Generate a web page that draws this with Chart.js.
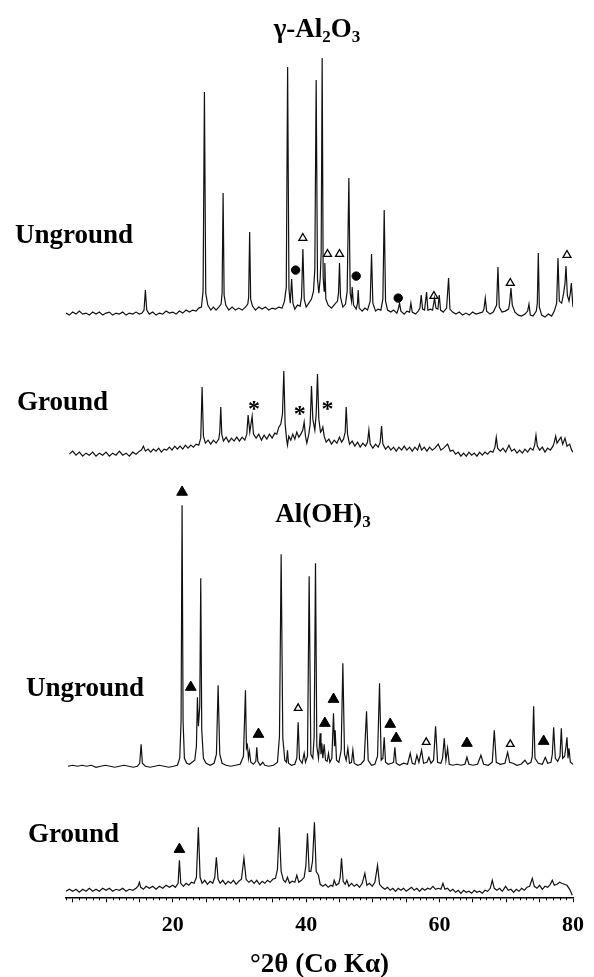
<!DOCTYPE html>
<html>
<head>
<meta charset="utf-8">
<script src="https://cdn.jsdelivr.net/npm/chart.js@4.4.1/dist/chart.umd.min.js"></script>
<style>
  html, body { margin: 0; padding: 0; background: #fff; }
  canvas { display: block; }
</style>
</head>
<body>
<canvas id="xrd" width="594" height="977"></canvas>
<script>
// 2-theta (deg, Co K-alpha) vs. relative intensity (a.u.)
const gammaUnground = [
  [4,0],[4.5,-2],[5,1],[5.5,-1],[6,2],[6.5,-1],[7,0],[7.5,-2],[8,1],[8.5,-1],[9,1],[9.5,-2],[10,0],[10.5,1],
  [11,-2],[11.5,0],[12,-1],[12.5,1],[13,-2],[13.5,0],[14,-1],[14.5,1],[15,-1],[15.4,0],[15.7,3],[15.9,23],
  [16.1,3],[16.5,-1],[17,1],[17.5,-2],[18,0],[18.5,-1],[19,2],[19.5,0],[20,1],[20.5,-1],[21,2],[21.5,0],
  [22,3],[22.5,1],[23,3],[23.5,2],[23.9,5],[24.3,6],[24.55,22],[24.75,221],[24.95,20],[25.25,8],[25.7,3],
  [26.1,6],[26.5,3],[26.9,6],[27.25,9],[27.4,20],[27.55,120],[27.7,18],[27.95,8],[28.4,3],[28.9,6],[29.4,3],
  [29.9,5],[30.4,3],[30.9,6],[31.25,9],[31.38,16],[31.53,81],[31.68,14],[31.95,7],[32.4,3],[32.9,6],[33.4,4],
  [33.9,6],[34.4,3],[34.9,5],[35.4,4],[35.9,6],[36.4,5],[36.75,12],[37.02,26],[37.22,246],[37.42,24],
  [37.62,10],[37.82,34],[38.02,10],[38.3,4],[38.7,8],[39.1,7],[39.31,16],[39.51,64],[39.71,14],[40,6],
  [40.4,10],[40.8,14],[41.1,22],[41.3,44],[41.5,233],[41.7,34],[41.9,20],[42.1,34],[42.25,60],[42.4,255],
  [42.55,36],[42.7,22],[42.8,50],[42.95,14],[43.3,8],[43.8,5],[44.3,9],[44.7,12],[44.85,20],[45,50],
  [45.15,16],[45.5,6],[45.9,9],[46.15,22],[46.4,135],[46.6,20],[46.8,12],[46.9,26],[47.1,8],[47.5,4],
  [47.7,10],[47.8,23],[47.95,5],[48.4,2],[48.8,5],[49.2,3],[49.6,12],[49.8,59],[50,10],[50.4,2],[50.8,4],
  [51.2,3],[51.5,14],[51.7,103],[51.9,12],[52.2,3],[52.7,1],[53.1,3],[53.6,0],[53.8,4],[54,10],[54.2,2],
  [54.7,-1],[55.1,2],[55.5,1],[55.7,10],[55.9,1],[56.4,-1],[56.8,2],[57.05,5],[57.25,18],[57.45,4],
  [57.75,3],[58.05,21],[58.25,3],[58.65,4],[58.95,3],[59.25,15],[59.45,5],[59.75,4],[59.95,18],[60.15,3],
  [60.55,1],[61.05,5],[61.35,35],[61.55,4],[61.95,1],[62.45,-1],[62.95,1],[63.45,-2],[63.95,0],[64.45,-2],
  [64.95,1],[65.45,-1],[65.95,0],[66.45,1],[66.65,4],[66.85,15],[67.05,2],[67.55,-1],[68.05,1],[68.55,8],
  [68.75,46],[68.95,6],[69.35,1],[69.85,2],[70.35,4],[70.5,10],[70.7,25],[70.9,8],[71.3,1],[71.8,-2],
  [72.3,-3],[72.8,-1],[73.2,2],[73.4,9],[73.6,-2],[74,-3],[74.5,2],[74.65,10],[74.8,60],[74.95,6],[75.3,-2],
  [75.8,-4],[76.3,-1],[76.8,-3],[77.2,2],[77.55,10],[77.75,55],[77.95,12],[78.3,10],[78.6,20],[78.8,30],
  [78.95,47],[79.15,18],[79.4,12],[79.6,20],[79.75,30],[79.95,10],[80,6]
];

const gammaGround = [
  [4.5,0],[5,3],[5.5,-1],[6,2],[6.5,-2],[7,1],[7.5,-1],[8,2],[8.5,-2],[9,1],[9.5,-1],[10,2],[10.5,-2],[11,1],
  [11.5,-1],[12,3],[12.5,-1],[13,1],[13.5,-2],[14,2],[14.5,0],[15,3],[15.3,4],[15.6,8],[15.9,3],[16.3,5],
  [16.7,2],[17.1,5],[17.5,3],[17.9,6],[18.3,2],[18.7,5],[19.1,4],[19.5,7],[19.9,4],[20.3,8],[20.7,5],
  [21.1,8],[21.5,5],[21.9,9],[22.3,6],[22.7,9],[23.1,7],[23.5,10],[23.9,9],[24.2,16],[24.4,67],[24.6,18],
  [24.9,11],[25.3,14],[25.7,10],[26.1,14],[26.5,11],[26.9,15],[27.05,22],[27.2,47],[27.35,20],[27.6,13],
  [28,17],[28.4,12],[28.8,16],[29.2,13],[29.6,17],[30,13],[30.4,17],[30.8,14],[31.1,20],[31.3,39],
  [31.55,22],[31.9,38],[32.1,20],[32.5,16],[32.9,20],[33.3,14],[33.7,19],[34.1,15],[34.5,20],[34.9,16],
  [35.3,21],[35.6,20],[35.9,27],[36.2,30],[36.45,40],[36.65,83],[36.85,30],[37.05,16],[37.2,9],[37.4,18],
  [37.7,14],[38,20],[38.3,15],[38.6,22],[38.9,17],[39.2,20],[39.5,24],[39.7,32],[39.9,18],[40.1,11],
  [40.4,20],[40.6,30],[40.8,68],[41,35],[41.3,24],[41.5,40],[41.7,80],[41.9,35],[42.15,22],[42.35,24],
  [42.5,27],[42.7,18],[43,12],[43.4,15],[43.8,10],[44.2,14],[44.6,11],[45,17],[45.3,12],[45.6,15],
  [45.85,22],[46,47],[46.2,20],[46.5,10],[46.9,13],[47.3,8],[47.7,12],[48.1,7],[48.5,11],[48.9,8],
  [49.2,12],[49.4,24],[49.6,10],[50,6],[50.4,10],[50.8,7],[51.1,12],[51.3,28],[51.5,10],[51.9,5],[52.3,8],
  [52.7,4],[53.1,7],[53.5,3],[53.9,7],[54.3,4],[54.7,8],[55.1,4],[55.5,7],[55.9,3],[56.3,7],[56.7,4],
  [57,10],[57.3,4],[57.7,7],[58.1,3],[58.5,7],[58.9,4],[59.3,6],[59.8,10],[60.2,4],[60.6,6],[61.2,10],
  [61.6,3],[62,4],[62.4,0],[62.8,2],[63.2,-2],[63.6,1],[64,-2],[64.4,2],[64.8,-1],[65.2,1],[65.6,-2],
  [66,2],[66.4,-1],[66.8,2],[67.2,0],[67.6,3],[68,2],[68.3,7],[68.5,17],[68.7,6],[69.1,3],[69.5,6],
  [69.9,2],[70.4,9],[70.8,3],[71.2,5],[71.6,1],[72,4],[72.4,1],[72.8,5],[73.2,2],[73.6,6],[74,4],
  [74.25,9],[74.45,19],[74.65,8],[75,4],[75.4,7],[75.8,2],[76.2,6],[76.6,4],[77,8],[77.2,12],[77.4,18],
  [77.6,11],[77.9,14],[78.2,17],[78.45,10],[78.8,16],[79.1,8],[79.5,10],[79.8,4],[80,2]
];

const gibbsiteUnground = [
  [4.3,0],[5,1],[5.7,0],[6.4,1],[7.1,0],[7.8,1],[8.5,-1],[9.2,0],[9.9,1],[10.6,0],[11.3,-1],[12,0],[12.7,1],
  [13.4,0],[14.1,-1],[14.7,0],[15.05,3],[15.26,22],[15.45,3],[15.9,0],[16.6,-1],[17.3,0],[18,1],[18.7,0],
  [19.4,-1],[20.1,0],[20.7,1],[21.05,8],[21.25,45],[21.4,261],[21.55,45],[21.75,8],[22.1,3],[22.5,2],
  [22.9,4],[23.3,6],[23.55,20],[23.7,69],[23.85,40],[24.05,60],[24.2,188],[24.35,36],[24.6,8],[25,3],
  [25.6,1],[26.2,3],[26.55,12],[26.8,81],[27.05,12],[27.4,3],[28,1],[28.7,0],[29.4,1],[30.1,2],[30.6,10],
  [30.9,76],[31.05,18],[31.2,21],[31.35,8],[31.5,15],[31.7,4],[32.1,2],[32.45,5],[32.6,19],[32.75,5],
  [33.1,1],[33.5,4],[33.8,1],[34.4,0],[35.1,1],[35.7,4],[36,30],[36.25,212],[36.5,28],[36.8,6],[37.05,4],
  [37.2,16],[37.35,3],[37.8,1],[38.3,2],[38.6,8],[38.8,44],[39,7],[39.4,3],[39.7,13],[39.9,4],[40.2,10],
  [40.45,190],[40.7,12],[41,8],[41.2,30],[41.4,203],[41.6,20],[41.85,8],[42.1,33],[42.22,12],[42.35,23],
  [42.5,8],[42.7,22],[42.9,6],[43.15,5],[43.35,13],[43.55,4],[43.85,8],[44.1,53],[44.25,20],[44.35,36],
  [44.55,6],[44.9,4],[45.25,16],[45.5,103],[45.75,12],[46,6],[46.25,18],[46.5,3],[46.8,4],[47,16],[47.2,3],
  [47.7,1],[48.2,2],[48.7,6],[49.05,55],[49.3,6],[49.8,1],[50.3,2],[50.7,10],[51,83],[51.25,6],[51.5,8],
  [51.7,29],[51.9,4],[52.3,2],[52.8,3],[53.1,4],[53.3,19],[53.5,3],[54,1],[54.6,3],[55.2,2],[55.6,13],
  [55.9,3],[56.3,2],[56.6,11],[56.9,4],[57.3,16],[57.6,3],[58.1,4],[58.4,9],[58.7,3],[59.1,6],[59.4,40],
  [59.7,4],[60.2,3],[60.45,8],[60.7,28],[60.95,6],[61.2,18],[61.45,2],[62,1],[62.6,2],[63.2,1],[63.8,2],
  [64.1,9],[64.4,2],[65,1],[65.7,2],[66.2,11],[66.6,2],[67.3,1],[67.9,4],[68.2,36],[68.5,4],[69.1,2],
  [69.8,3],[70.2,14],[70.5,4],[71,3],[71.6,1],[72.2,2],[72.8,6],[73.2,2],[73.7,4],[73.9,10],[74.1,60],
  [74.3,8],[74.8,3],[75.4,2],[75.85,9],[76.2,3],[76.7,4],[76.9,12],[77.1,39],[77.35,8],[77.7,5],[78.05,10],
  [78.25,38],[78.45,8],[78.75,10],[78.95,20],[79.1,29],[79.25,8],[79.4,18],[79.6,4],[80,2]
];

const gibbsiteGround = [
  [4,0],[4.5,2],[5,0],[5.5,2],[6,-1],[6.5,2],[7,0],[7.5,3],[8,0],[8.5,2],[9,0],[9.5,3],[10,1],[10.5,3],
  [11,0],[11.5,2],[12,1],[12.5,3],[13,0],[13.5,2],[14,1],[14.5,3],[14.8,5],[15,9],[15.2,4],[15.6,2],[16,5],
  [16.5,3],[17,5],[17.5,2],[18,5],[18.5,3],[19,6],[19.5,4],[20,6],[20.4,4],[20.8,8],[21,31],[21.2,8],
  [21.6,5],[22,8],[22.4,6],[22.8,9],[23.2,8],[23.55,14],[23.84,64],[24.1,14],[24.4,8],[24.8,11],[25.2,7],
  [25.6,10],[26,8],[26.3,14],[26.54,34],[26.8,12],[27.1,8],[27.5,11],[27.9,7],[28.3,10],[28.7,8],[29.1,11],
  [29.5,7],[29.9,10],[30.3,12],[30.67,33],[31,12],[31.4,9],[31.8,11],[32.2,8],[32.6,11],[33,7],[33.4,10],
  [33.8,8],[34.2,11],[34.6,9],[35,12],[35.4,13],[35.7,22],[35.97,64],[36.25,20],[36.6,11],[36.9,9],
  [37.2,14],[37.5,8],[37.9,10],[38.3,9],[38.6,16],[38.9,9],[39.3,11],[39.7,14],[39.95,25],[40.2,58],
  [40.45,20],[40.7,20],[40.95,30],[41.24,69],[41.5,20],[41.85,16],[42.1,7],[42.5,5],[42.9,7],[43.3,4],
  [43.7,6],[44,5],[44.2,11],[44.5,6],[44.9,8],[45.1,14],[45.3,33],[45.55,10],[45.85,7],[46.1,11],[46.4,5],
  [46.8,8],[47.2,5],[47.6,7],[48,4],[48.4,8],[48.8,18],[49.1,6],[49.5,8],[49.9,5],[50.3,9],[50.7,26],[51,7],
  [51.4,4],[51.8,2],[52.2,4],[52.6,1],[53,3],[53.4,0],[53.8,3],[54.2,1],[54.6,3],[55,0],[55.4,2],[55.8,4],
  [56.2,1],[56.6,3],[57,0],[57.4,3],[57.8,1],[58.2,3],[58.6,2],[59,5],[59.4,2],[59.8,3],[60.2,2],[60.5,8],
  [60.8,2],[61.2,3],[61.6,0],[62,2],[62.4,-1],[62.8,1],[63.2,-2],[63.6,1],[64,-1],[64.4,0],[64.8,-2],
  [65.2,1],[65.6,-1],[66,0],[66.4,-2],[66.8,1],[67.2,0],[67.6,3],[67.9,11],[68.2,3],[68.6,1],[69,3],
  [69.4,0],[69.9,5],[70.3,1],[70.7,2],[71.1,-1],[71.5,2],[71.9,0],[72.3,3],[72.7,1],[73.1,4],[73.5,5],
  [73.9,13],[74.2,5],[74.6,3],[75,6],[75.4,2],[75.8,5],[76.2,4],[76.6,7],[76.9,11],[77.2,6],[77.6,7],
  [78,9],[78.3,8],[78.7,7],[79.1,6],[79.5,2],[79.9,-4]
];

// phase markers: [2-theta, intensity where the symbol sits]
const gammaOpenTri = [[39.5,75],[43.2,59],[45,59],[59.15,17],[70.6,30],[79.1,58]];
const gammaDots = [[38.42,43],[47.5,37],[53.8,15]];
const gammaStars = [[32.2,49],[39.05,44],[43.2,49]];
const gibbsFilledTri = [[21.4,274],[22.7,79],[32.85,32],[42.8,43],[44.1,67],[52.6,42],[53.5,28],[64.1,23],[75.6,25]];
const gibbsOpenTri = [[38.8,58],[58,24],[70.6,22]];
const gibbsGroundTri = [[21,42]];

const xTicks = [20, 40, 60, 80];

const FAMILY = "'Liberation Serif', 'Times New Roman', serif";
Chart.defaults.font.family = FAMILY;
Chart.defaults.color = '#000';

const toXY = pairs => pairs.map(p => ({x: p[0], y: p[1]}));

function trace(data, axis) {
  return {
    data: toXY(data), yAxisID: axis, borderColor: '#111', borderWidth: 1.2,
    pointRadius: 0, tension: 0, fill: false
  };
}

function marks(data, axis, style, r, filled) {
  return {
    data: toXY(data), yAxisID: axis, showLine: false,
    pointStyle: style, pointRadius: r, pointHoverRadius: r,
    pointBackgroundColor: filled ? '#000' : '#fff', pointBorderColor: '#000',
    pointBorderWidth: filled ? 1 : 1.3
  };
}

function hiddenY(min, max, weight, order) {
  return {
    type: 'linear', position: 'left', stack: 'scans', stackWeight: weight, weight: order,
    min: min, max: max, display: false, offset: false
  };
}

function drawRich(ctx, parts, x, y, size, align) {
  const big = 'bold ' + size + 'px ' + FAMILY;
  const small = 'bold ' + Math.round(size * 0.62) + 'px ' + FAMILY;
  let w = 0;
  parts.forEach(p => { ctx.font = p[1] ? small : big; w += ctx.measureText(p[0]).width; });
  let cx = align === 'center' ? x - w / 2 : x;
  ctx.textAlign = 'left';
  parts.forEach(p => {
    ctx.font = p[1] ? small : big;
    ctx.fillText(p[0], cx, p[1] ? y + size * 0.2 : y);
    cx += ctx.measureText(p[0]).width;
  });
}

const annotations = {
  id: 'annotations',
  afterDatasetsDraw(chart) {
    const ctx = chart.ctx;
    const xs = chart.scales.x, ys = chart.scales.y2;
    ctx.save();
    ctx.fillStyle = '#000';
    ctx.textBaseline = 'alphabetic';
    drawRich(ctx, [['γ-Al', false], ['2', true], ['O', false], ['3', true]], 317, 37, 27, 'center');
    drawRich(ctx, [['Al(OH)', false], ['3', true]], 323, 522, 27, 'center');
    drawRich(ctx, [['Unground', false]], 15, 243, 27, 'left');
    drawRich(ctx, [['Ground', false]], 17, 410, 27, 'left');
    drawRich(ctx, [['Unground', false]], 26, 696, 27, 'left');
    drawRich(ctx, [['Ground', false]], 28, 842, 27, 'left');
    ctx.font = 'bold 24px ' + FAMILY;
    ctx.textAlign = 'center';
    gammaStars.forEach(s => {
      ctx.fillText('*', xs.getPixelForValue(s[0]), ys.getPixelForValue(s[1]) + 11);
    });
    ctx.restore();
  },
  afterDraw(chart) {
    // short minor ticks every degree
    const xs = chart.scales.x, ctx = chart.ctx;
    ctx.save();
    ctx.strokeStyle = '#000';
    ctx.lineWidth = 1;
    for (let v = Math.ceil(xs.min); v <= xs.max; v++) {
      if (v % 5 === 0) continue;
      const px = Math.round(xs.getPixelForValue(v)) + 0.5;
      ctx.beginPath();
      ctx.moveTo(px, xs.top);
      ctx.lineTo(px, xs.top + 3);
      ctx.stroke();
    }
    ctx.restore();
  }
};

new Chart(document.getElementById('xrd'), {
  type: 'line',
  data: {
    datasets: [
      trace(gammaUnground, 'y1'),
      trace(gammaGround, 'y2'),
      trace(gibbsiteUnground, 'y3'),
      trace(gibbsiteGround, 'y4'),
      marks(gammaOpenTri, 'y1', 'triangle', 4.6, false),
      marks(gammaDots, 'y1', 'circle', 4.2, true),
      marks(gibbsFilledTri, 'y3', 'triangle', 6.2, true),
      marks(gibbsOpenTri, 'y3', 'triangle', 4.4, false),
      marks(gibbsGroundTri, 'y4', 'triangle', 6.2, true)
    ]
  },
  options: {
    responsive: false,
    animation: false,
    devicePixelRatio: 1,
    layout: {padding: {left: 66, top: 40, right: 0, bottom: 0}},
    plugins: {legend: {display: false}, tooltip: {enabled: false}},
    scales: {
      x: {
        type: 'linear', position: 'bottom', min: 4, max: 80,
        border: {display: true, color: '#000', width: 1.5},
        grid: {display: true, drawOnChartArea: false, drawTicks: true, tickLength: 5, tickColor: '#000', tickWidth: 1},
        afterBuildTicks: axis => { axis.ticks = axis.ticks.filter(t => t.value % 5 === 0); },
        ticks: {
          stepSize: 5, includeBounds: false, autoSkip: false, maxRotation: 0, padding: 10,
          font: {size: 22, weight: 'bold'},
          callback: v => (xTicks.indexOf(v) >= 0 ? String(v) : '')
        },
        title: {
          display: true, text: '°2θ (Co Kα)', font: {size: 27, weight: 'bold', lineHeight: 0.9},
          padding: {top: 4, bottom: 0}
        }
      },
      y1: hiddenY(-17, 273, 290, 4),
      y2: hiddenY(-16, 124, 140, 3),
      y3: hiddenY(-14, 296, 310, 2),
      y4: hiddenY(-6, 111, 117, 1)
    }
  },
  plugins: [annotations]
});
</script>
</body>
</html>
